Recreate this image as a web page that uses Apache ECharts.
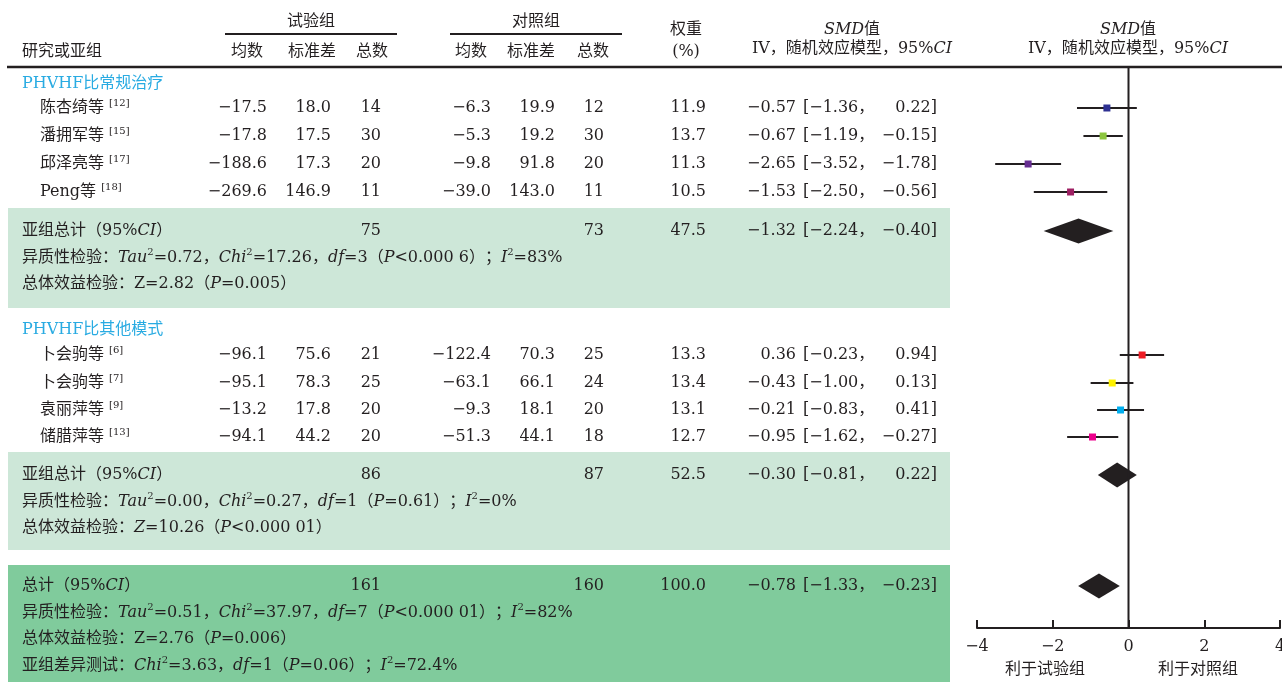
<!DOCTYPE html>
<html>
<head>
<meta charset="utf-8">
<script src="https://cdn.jsdelivr.net/npm/echarts@6/dist/echarts.min.js"></script>
<style>
  html, body { margin: 0; padding: 0; background: #fff; }
  #chart { width: 1282px; height: 682px; }
</style>
</head>
<body>
<div id="chart"></div>
<script>
// ---------- data ----------
const subgroupNames = ['PHVHF比常规治疗', 'PHVHF比其他模式'];
const studyNames = ['陈杏绮等', '潘拥军等', '邱泽亮等', 'Peng等', '卜会驹等', '卜会驹等', '袁丽萍等', '储腊萍等'];
const studyRefs = ['12', '15', '17', '18', '6', '7', '9', '13'];
const expMean = [-17.5, -17.8, -188.6, -269.6, -96.1, -95.1, -13.2, -94.1];
const expSD = [18.0, 17.5, 17.3, 146.9, 75.6, 78.3, 17.8, 44.2];
const expN = [14, 30, 20, 11, 21, 25, 20, 20];
const ctrlMean = [-6.3, -5.3, -9.8, -39.0, -122.4, -63.1, -9.3, -51.3];
const ctrlSD = [19.9, 19.2, 91.8, 143.0, 70.3, 66.1, 18.1, 44.1];
const ctrlN = [12, 30, 20, 11, 25, 24, 20, 18];
const weights = [11.9, 13.7, 11.3, 10.5, 13.3, 13.4, 13.1, 12.7];
const smd = [-0.57, -0.67, -2.65, -1.53, 0.36, -0.43, -0.21, -0.95];
const ciLow = [-1.36, -1.19, -3.52, -2.50, -0.23, -1.00, -0.83, -1.62];
const ciHigh = [0.22, -0.15, -1.78, -0.56, 0.94, 0.13, 0.41, -0.27];

// pooled results: subgroup 1, subgroup 2, overall
const pooledLabels = ['亚组总计', '亚组总计', '总计'];
const pooledExpN = [75, 86, 161];
const pooledCtrlN = [73, 87, 160];
const pooledWeight = [47.5, 52.5, 100.0];
const pooledSMD = [-1.32, -0.30, -0.78];
const pooledLow = [-2.24, -0.81, -1.33];
const pooledHigh = [-0.40, 0.22, -0.23];
const tau2 = [0.72, 0.00, 0.51];
const chi2 = [17.26, 0.27, 37.97];
const dfVal = [3, 1, 7];
const hetP = ['<0.000 6', '=0.61', '<0.000 01'];
const i2 = ['83', '0', '82'];
const zVal = ['2.82', '10.26', '2.76'];
const zP = ['=0.005', '<0.000 01', '=0.006'];
const subgroupDiff = { chi2: '3.63', df: 1, p: '=0.06', i2: '72.4' };

const axisMin = -4, axisMax = 4, axisStep = 2;

// ---------- layout & style ----------
const FONT = "'DejaVu Serif','Noto Sans CJK SC',serif";
const INK = '#231f20';
const HEAD_BLUE = '#29abe2';
const PALE_GREEN = '#cde7d8';
const DEEP_GREEN = '#80cb9c';
const markerColors = ['#2e3192', '#8dc63f', '#662d91', '#9e1f63', '#ed1c24', '#fff200', '#00aeef', '#ec008c'];

const Y_TOP = 67, Y_AXIS = 628;
const groupHeadY = [84, 330];
const studyRowY = [108, 136, 164, 192, 355, 383, 410, 437];
const pooledRowY = [231, 475, 586];
const LINE_GAP = 26.5;
const boxes = [
  { top: 208, bottom: 308, color: PALE_GREEN },
  { top: 452, bottom: 550, color: PALE_GREEN },
  { top: 565, bottom: 682, color: DEEP_GREEN }
];
const COL = {
  name: 22, study: 40,
  expMean: 267, expSD: 331, expN: 381,
  ctrlMean: 491, ctrlSD: 555, ctrlN: 604,
  weight: 706, est: 796, low: 803, high: 937
};
const FS = 16;

const RICH = {
  i: { fontStyle: 'italic', fontSize: FS, fontFamily: FONT, fill: INK },
  sup: { fontSize: 10, fontFamily: FONT, verticalAlign: 'top', lineHeight: 10, fill: INK }
};

const MINUS = '\u2212';
function num(v, d) { return (v < 0 ? MINUS : '') + Math.abs(v).toFixed(d); }

function txt(x, y, text, align, extra) {
  return {
    type: 'text', x: x, y: y, z: 10,
    style: Object.assign({
      text: text, align: align, verticalAlign: 'middle',
      textAlign: align, textVerticalAlign: 'middle',
      fontSize: FS, fontFamily: FONT, fill: INK, lineHeight: 20, rich: RICH
    }, extra || {})
  };
}
function numTxt(x, y, text, align) { return txt(x, y, text, align || 'right'); }
function hline(x1, x2, y, w) {
  return { type: 'line', z: 10, shape: { x1: x1, y1: y, x2: x2, y2: y }, style: { stroke: INK, lineWidth: w || 2 } };
}

const graphics = [];

// shaded blocks behind pooled results
boxes.forEach(b => graphics.push({
  type: 'rect', z: 1, shape: { x: 8, y: b.top, width: 942, height: b.bottom - b.top },
  style: { fill: b.color }
}));

// column headers
graphics.push(txt(311, 22, '试验组', 'center'));
graphics.push(txt(536, 22, '对照组', 'center'));
graphics.push(hline(225, 397, 34));
graphics.push(hline(450, 622, 34));
graphics.push(txt(COL.name, 52, '研究或亚组', 'left'));
[['均数', 247], ['标准差', 312], ['总数', 372], ['均数', 471], ['标准差', 531], ['总数', 593]]
  .forEach(h => graphics.push(txt(h[1], 52, h[0], 'center')));
graphics.push(txt(686, 30, '权重', 'center'));
graphics.push(txt(686, 52, '(%)', 'center'));
[852, 1128].forEach(cx => {
  graphics.push(txt(cx, 30, '{i|SMD}值', 'center'));
  graphics.push(txt(cx, 49, 'IV，随机效应模型，95%{i|CI}', 'center'));
});
graphics.push(hline(7, 1282, Y_TOP, 2.5));

// subgroup headings
subgroupNames.forEach((n, k) => graphics.push(txt(COL.name, groupHeadY[k], n, 'left', { fill: HEAD_BLUE })));

// study rows
studyNames.forEach((n, i) => {
  const y = studyRowY[i];
  graphics.push(txt(COL.study, y, n + ' {sup|[' + studyRefs[i] + ']}', 'left'));
  graphics.push(numTxt(COL.expMean, y, num(expMean[i], 1)));
  graphics.push(numTxt(COL.expSD, y, num(expSD[i], 1)));
  graphics.push(numTxt(COL.expN, y, String(expN[i])));
  graphics.push(numTxt(COL.ctrlMean, y, num(ctrlMean[i], 1)));
  graphics.push(numTxt(COL.ctrlSD, y, num(ctrlSD[i], 1)));
  graphics.push(numTxt(COL.ctrlN, y, String(ctrlN[i])));
  graphics.push(numTxt(COL.weight, y, weights[i].toFixed(1)));
  graphics.push(numTxt(COL.est, y, num(smd[i], 2)));
  graphics.push(numTxt(COL.low, y, '[' + num(ciLow[i], 2) + '，', 'left'));
  graphics.push(numTxt(COL.high, y, num(ciHigh[i], 2) + ']'));
});

// pooled blocks
pooledLabels.forEach((lab, k) => {
  const y = pooledRowY[k];
  graphics.push(txt(COL.name, y, lab + '（95%{i|CI}）', 'left'));
  graphics.push(numTxt(COL.expN, y, String(pooledExpN[k])));
  graphics.push(numTxt(COL.ctrlN, y, String(pooledCtrlN[k])));
  graphics.push(numTxt(COL.weight, y, pooledWeight[k].toFixed(1)));
  graphics.push(numTxt(COL.est, y, num(pooledSMD[k], 2)));
  graphics.push(numTxt(COL.low, y, '[' + num(pooledLow[k], 2) + '，', 'left'));
  graphics.push(numTxt(COL.high, y, num(pooledHigh[k], 2) + ']'));
  graphics.push(txt(COL.name, y + LINE_GAP,
    '异质性检验：{i|Tau}{sup|2}=' + tau2[k].toFixed(2) + '，{i|Chi}{sup|2}=' + chi2[k].toFixed(2) +
    '，{i|df}=' + dfVal[k] + '（{i|P}' + hetP[k] + '）；{i|I}{sup|2}=' + i2[k] + '%', 'left'));
  const zLabel = k === 1 ? '{i|Z}' : 'Z';
  graphics.push(txt(COL.name, y + 2 * LINE_GAP,
    '总体效益检验：' + zLabel + '=' + zVal[k] + '（{i|P}' + zP[k] + '）', 'left'));
});
graphics.push(txt(COL.name, pooledRowY[2] + 3 * LINE_GAP,
  '亚组差异测试：{i|Chi}{sup|2}=' + subgroupDiff.chi2 + '，{i|df}=' + subgroupDiff.df +
  '（{i|P}' + subgroupDiff.p + '）；{i|I}{sup|2}=' + subgroupDiff.i2 + '%', 'left'));

// direction captions under the axis
graphics.push(txt(1045, 670, '利于试验组', 'center'));
graphics.push(txt(1198, 670, '利于对照组', 'center'));

// ---------- forest plot series ----------
const studyData = smd.map((v, i) => [v, ciLow[i], ciHigh[i], studyRowY[i], i]);
const pooledData = pooledSMD.map((v, k) => [v, pooledLow[k], pooledHigh[k], pooledRowY[k]]);

const chart = echarts.init(document.getElementById('chart'), null, { renderer: 'canvas' });
chart.setOption({
  animation: false,
  backgroundColor: '#ffffff',
  graphic: { elements: graphics },
  grid: {
    left: 977, top: Y_TOP, width: 303, height: Y_AXIS - Y_TOP,
    containLabel: false, outerBoundsMode: 'none'
  },
  xAxis: {
    type: 'value', min: axisMin, max: axisMax, interval: axisStep,
    axisLine: { show: true, onZero: false, lineStyle: { color: INK, width: 2 } },
    axisTick: { show: true, inside: true, length: 8, lineStyle: { color: INK, width: 2 } },
    axisLabel: {
      show: true, margin: 11, color: INK, fontFamily: FONT, fontSize: FS,
      formatter: v => (v < 0 ? MINUS + Math.abs(v) : String(v))
    },
    splitLine: { show: false }
  },
  yAxis: { type: 'value', min: Y_TOP, max: Y_AXIS, inverse: true, show: false },
  series: [
    {
      type: 'line', silent: true, symbol: 'none',
      data: [[0, Y_TOP], [0, Y_AXIS]],
      lineStyle: { color: INK, width: 2 }
    },
    {
      type: 'custom', silent: true,
      encode: { x: [0, 1, 2], y: 3 },
      data: studyData,
      renderItem: function (params, api) {
        const y = api.value(3);
        const c = api.coord([api.value(0), y]);
        const lo = api.coord([api.value(1), y]);
        const hi = api.coord([api.value(2), y]);
        const s = 7;
        return {
          type: 'group',
          children: [
            { type: 'line', shape: { x1: lo[0], y1: lo[1], x2: hi[0], y2: hi[1] }, style: { stroke: INK, lineWidth: 2 } },
            { type: 'rect', shape: { x: c[0] - s / 2, y: c[1] - s / 2, width: s, height: s },
              style: { fill: markerColors[api.value(4)] } }
          ]
        };
      }
    },
    {
      type: 'custom', silent: true,
      encode: { x: [0, 1, 2], y: 3 },
      data: pooledData,
      renderItem: function (params, api) {
        const y = api.value(3);
        const c = api.coord([api.value(0), y]);
        const lo = api.coord([api.value(1), y]);
        const hi = api.coord([api.value(2), y]);
        const h = 12.5;
        return {
          type: 'polygon',
          shape: { points: [[lo[0], lo[1]], [c[0], c[1] - h], [hi[0], hi[1]], [c[0], c[1] + h]] },
          style: { fill: INK }
        };
      }
    }
  ]
});
</script>
</body>
</html>
